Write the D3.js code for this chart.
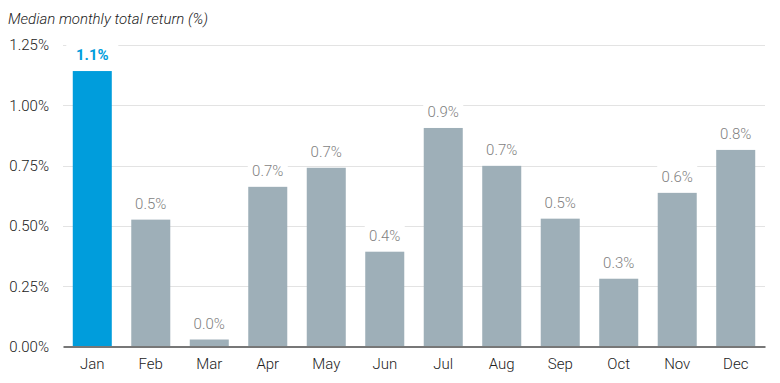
<!DOCTYPE html>
<html>
<head>
<meta charset="utf-8">
<script src="https://cdn.jsdelivr.net/npm/d3@7"></script>
<style>
  body { margin: 0; background: #fff; }
  svg { display: block; font-family: Roboto, sans-serif; font-weight: 300; }
</style>
</head>
<body>
<svg id="area" width="780" height="383"></svg>
<script>
const months = ['Jan', 'Feb', 'Mar', 'Apr', 'May', 'Jun', 'Jul', 'Aug', 'Sep', 'Oct', 'Nov', 'Dec'];
const values = [1.142, 0.526, 0.029, 0.662, 0.741, 0.393, 0.906, 0.749, 0.530, 0.281, 0.637, 0.815];
const valueLabels = ['1.1%', '0.5%', '0.0%', '0.7%', '0.7%', '0.4%', '0.9%', '0.7%', '0.5%', '0.3%', '0.6%', '0.8%'];
const yTicks = [0, 0.25, 0.5, 0.75, 1.0, 1.25];
const highlight = 'Jan';

const svg = d3.select('#area');
const margin = { top: 45, right: 15, bottom: 36, left: 63 };
const width = 780;
const height = 383;
const font = 'Roboto, sans-serif';

const x = d3.scaleBand()
  .domain(months)
  .range([margin.left, width - margin.right])
  .paddingInner(0.333)
  .paddingOuter(0.167);

const y = d3.scaleLinear()
  .domain([0, 1.25])
  .range([height - margin.bottom - 0.5, margin.top]);

svg.append('text')
  .attr('x', 8)
  .attr('y', 24)
  .attr('font-size', 15)
  .attr('font-style', 'italic')
  .attr('fill', '#222')
  .text('Median monthly total return (%)');

// gridlines
svg.append('g')
  .selectAll('line')
  .data(yTicks.filter((d) => d > 0))
  .join('line')
  .attr('x1', margin.left)
  .attr('x2', width - margin.right)
  .attr('y1', (d) => Math.round(y(d)) + 0.5)
  .attr('y2', (d) => Math.round(y(d)) + 0.5)
  .attr('stroke', '#e3e3e3');

const yAxis = d3.axisLeft(y)
  .tickValues(yTicks)
  .tickSize(0)
  .tickPadding(14)
  .tickFormat((d) => `${d.toFixed(2)}%`);

svg.append('g')
  .attr('transform', `translate(${margin.left},0)`)
  .call(yAxis)
  .call((g) => g.select('.domain').remove())
  .call((g) => g.selectAll('text')
    .attr('font-family', font)
    .attr('font-weight', 300)
    .attr('font-size', 15)
    .attr('fill', '#222'));

svg.append('g')
  .selectAll('rect')
  .data(months)
  .join('rect')
  .attr('x', (d) => x(d))
  .attr('width', x.bandwidth())
  .attr('y', (d, i) => y(values[i]))
  .attr('height', (d, i) => y(0) - y(values[i]))
  .attr('fill', (d) => (d === highlight ? '#009ddc' : '#9eafb8'));

// value labels, each on a white box that breaks the gridlines
const labels = svg.append('g')
  .selectAll('g')
  .data(months)
  .join('g')
  .attr('transform', (d, i) => `translate(${x(d) + x.bandwidth() / 2},${y(values[i]) - 11})`);

labels.append('rect')
  .attr('x', (d) => (d === highlight ? -26 : -20))
  .attr('y', -17)
  .attr('width', (d) => (d === highlight ? 52 : 40))
  .attr('height', 22)
  .attr('fill', '#fff');

labels.append('text')
  .attr('text-anchor', 'middle')
  .attr('font-size', 15)
  .attr('font-weight', (d) => (d === highlight ? 'bold' : 300))
  .attr('fill', (d) => (d === highlight ? '#009ddc' : '#7f7f7f'))
  .text((d, i) => valueLabels[i]);

const xAxis = d3.axisBottom(x)
  .tickSize(0)
  .tickPadding(12);

svg.append('g')
  .attr('transform', `translate(0,${y(0)})`)
  .call(xAxis)
  .call((g) => g.select('.domain').attr('stroke', '#777').attr('stroke-width', 2))
  .call((g) => g.selectAll('text')
    .attr('font-family', font)
    .attr('font-weight', 300)
    .attr('font-size', 15)
    .attr('fill', '#222'));
</script>
</body>
</html>
